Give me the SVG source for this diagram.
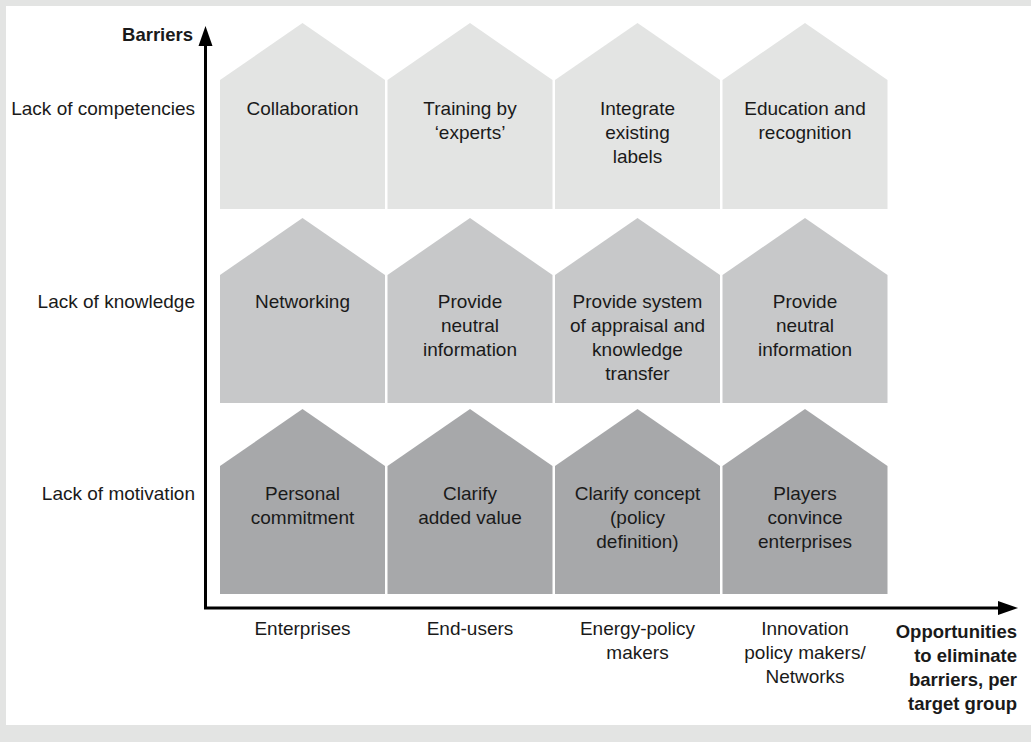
<svg xmlns="http://www.w3.org/2000/svg" width="1031" height="742" viewBox="0 0 1031 742">
<style>
text{font-family:"Liberation Sans",Arial,sans-serif;font-size:19px;fill:#1a1a1a}
.c{text-anchor:middle}
.r{text-anchor:end}
.b{font-weight:bold;font-size:18.5px}
.r1{fill:#e3e4e3}
.r2{fill:#c7c8c9}
.r3{fill:#a7a8aa}
.ax{fill:none;stroke:#000;stroke-width:3;stroke-linejoin:miter}
</style>
<rect x="0" y="0" width="1031" height="742" fill="#e3e4e3"/>
<rect x="6" y="6" width="1025" height="719" fill="#fff"/>

<g id="row-labels">
<text class="r" x="195" y="115">Lack of competencies</text>
<text class="r" x="195" y="308">Lack of knowledge</text>
<text class="r" x="195" y="500">Lack of motivation</text>
</g>

<g id="h11"><polygon class="r1" points="220,80 302.5,23 385,80 385,209 220,209"/><text class="c" x="302.5" y="115">Collaboration</text></g>
<g id="h12"><polygon class="r1" points="387.5,80 470,23 552.5,80 552.5,209 387.5,209"/><text class="c" x="470" y="115">Training by</text><text class="c" x="470" y="139">‘experts’</text></g>
<g id="h13"><polygon class="r1" points="555,80 637.5,23 720,80 720,209 555,209"/><text class="c" x="637.5" y="115">Integrate</text><text class="c" x="637.5" y="139">existing</text><text class="c" x="637.5" y="163">labels</text></g>
<g id="h14"><polygon class="r1" points="722.5,80 805,23 887.5,80 887.5,209 722.5,209"/><text class="c" x="805" y="115">Education and</text><text class="c" x="805" y="139">recognition</text></g>

<g id="h21"><polygon class="r2" points="220,275 302.5,218 385,275 385,403 220,403"/><text class="c" x="302.5" y="308">Networking</text></g>
<g id="h22"><polygon class="r2" points="387.5,275 470,218 552.5,275 552.5,403 387.5,403"/><text class="c" x="470" y="308">Provide</text><text class="c" x="470" y="332">neutral</text><text class="c" x="470" y="356">information</text></g>
<g id="h23"><polygon class="r2" points="555,275 637.5,218 720,275 720,403 555,403"/><text class="c" x="637.5" y="308">Provide system</text><text class="c" x="637.5" y="332">of appraisal and</text><text class="c" x="637.5" y="356">knowledge</text><text class="c" x="637.5" y="380">transfer</text></g>
<g id="h24"><polygon class="r2" points="722.5,275 805,218 887.5,275 887.5,403 722.5,403"/><text class="c" x="805" y="308">Provide</text><text class="c" x="805" y="332">neutral</text><text class="c" x="805" y="356">information</text></g>

<g id="h31"><polygon class="r3" points="220,466 302.5,409 385,466 385,594 220,594"/><text class="c" x="302.5" y="500">Personal</text><text class="c" x="302.5" y="524">commitment</text></g>
<g id="h32"><polygon class="r3" points="387.5,466 470,409 552.5,466 552.5,594 387.5,594"/><text class="c" x="470" y="500">Clarify</text><text class="c" x="470" y="524">added value</text></g>
<g id="h33"><polygon class="r3" points="555,466 637.5,409 720,466 720,594 555,594"/><text class="c" x="637.5" y="500">Clarify concept</text><text class="c" x="637.5" y="524">(policy</text><text class="c" x="637.5" y="548">definition)</text></g>
<g id="h34"><polygon class="r3" points="722.5,466 805,409 887.5,466 887.5,594 722.5,594"/><text class="c" x="805" y="500">Players</text><text class="c" x="805" y="524">convince</text><text class="c" x="805" y="548">enterprises</text></g>

<g id="col-labels">
<text class="c" x="302.5" y="635">Enterprises</text>
<text class="c" x="470" y="635">End-users</text>
<text class="c" x="637.5" y="635">Energy-policy</text><text class="c" x="637.5" y="659">makers</text>
<text class="c" x="805" y="635">Innovation</text><text class="c" x="805" y="659">policy makers/</text><text class="c" x="805" y="683">Networks</text>
</g>

<g id="axes">
<path class="ax" d="M205.5,44 V608 H999"/>
<polygon points="205.5,26 198.5,46 212.5,46" fill="#000"/>
<polygon points="1018,608 998,601 998,615" fill="#000"/>
</g>

<g id="axis-titles">
<text class="r b" x="193" y="41">Barriers</text>
<text class="r b" x="1017" y="638">Opportunities</text>
<text class="r b" x="1017" y="662">to eliminate</text>
<text class="r b" x="1017" y="686">barriers, per</text>
<text class="r b" x="1017" y="710">target group</text>
</g>
</svg>
